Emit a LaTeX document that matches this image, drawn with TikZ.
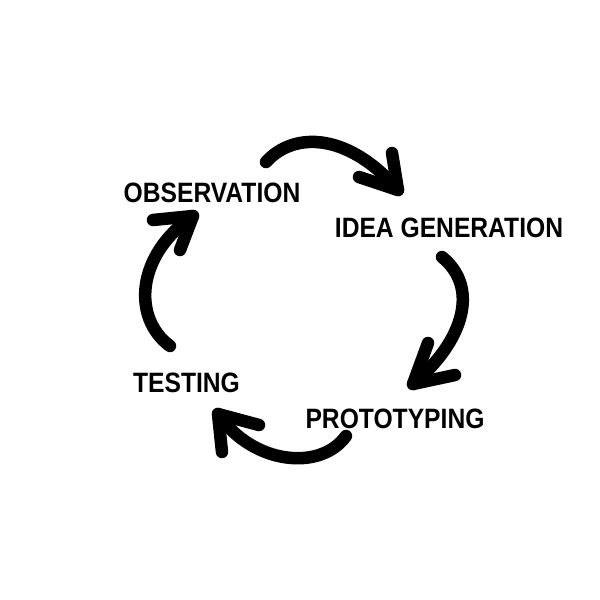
\documentclass[tikz,border=0pt]{standalone}
\usepackage{fontspec}
\setmainfont{Liberation Sans}[FakeStretch=0.88]
\begin{document}
\begin{tikzpicture}[x=1pt,y=-1pt,
  lbl/.style={anchor=base,inner sep=0pt,font=\fontsize{28}{30}\selectfont\bfseries},
  arc/.style={line width=12.5pt,line cap=round,line join=round,black},
]
\useasboundingbox[fill=white] (0,0) rectangle (600,600);
% labels
\node[lbl] (obs) at (212,202) {OBSERVATION};
\node[lbl] (idea) at (449,237) {IDEA GENERATION};
\node[lbl] (proto) at (395,428) {PROTOTYPING};
\node[lbl] (test) at (186.5,392) {TESTING};
% arrow 1: observation -> idea
\coordinate (a1s) at (266,162);
\coordinate (a1t) at (398,190);
\coordinate (a1h1) at (392,153);
\coordinate (a1h2) at (359,177);
\draw[arc] (a1s) .. controls (295,130) and (350,134) .. (a1t);
\draw[arc] (a1h1) -- (a1t) -- (a1h2);
% arrow 2: idea -> prototyping
\coordinate (a2s) at (442,257);
\coordinate (a2t) at (413,384);
\coordinate (a2h1) at (428,343);
\coordinate (a2h2) at (455,375);
\draw[arc] (a2s) .. controls (479,287) and (465,340) .. (a2t);
\draw[arc] (a2h1) -- (a2t) -- (a2h2);
% arrow 3: prototyping -> testing
\coordinate (a3s) at (346,436);
\coordinate (a3t) at (218,414);
\coordinate (a3h1) at (222,452);
\coordinate (a3h2) at (259,425);
\draw[arc] (a3s) .. controls (320,472) and (252,464) .. (a3t);
\draw[arc] (a3h1) -- (a3t) -- (a3h2);
% arrow 4: testing -> observation
\coordinate (a4s) at (170,346);
\coordinate (a4t) at (193,216);
\coordinate (a4h1) at (153,220);
\coordinate (a4h2) at (180,250);
\draw[arc] (a4s) .. controls (132,318) and (136,255) .. (a4t);
\draw[arc] (a4h1) -- (a4t) -- (a4h2);
\end{tikzpicture}
\end{document}
